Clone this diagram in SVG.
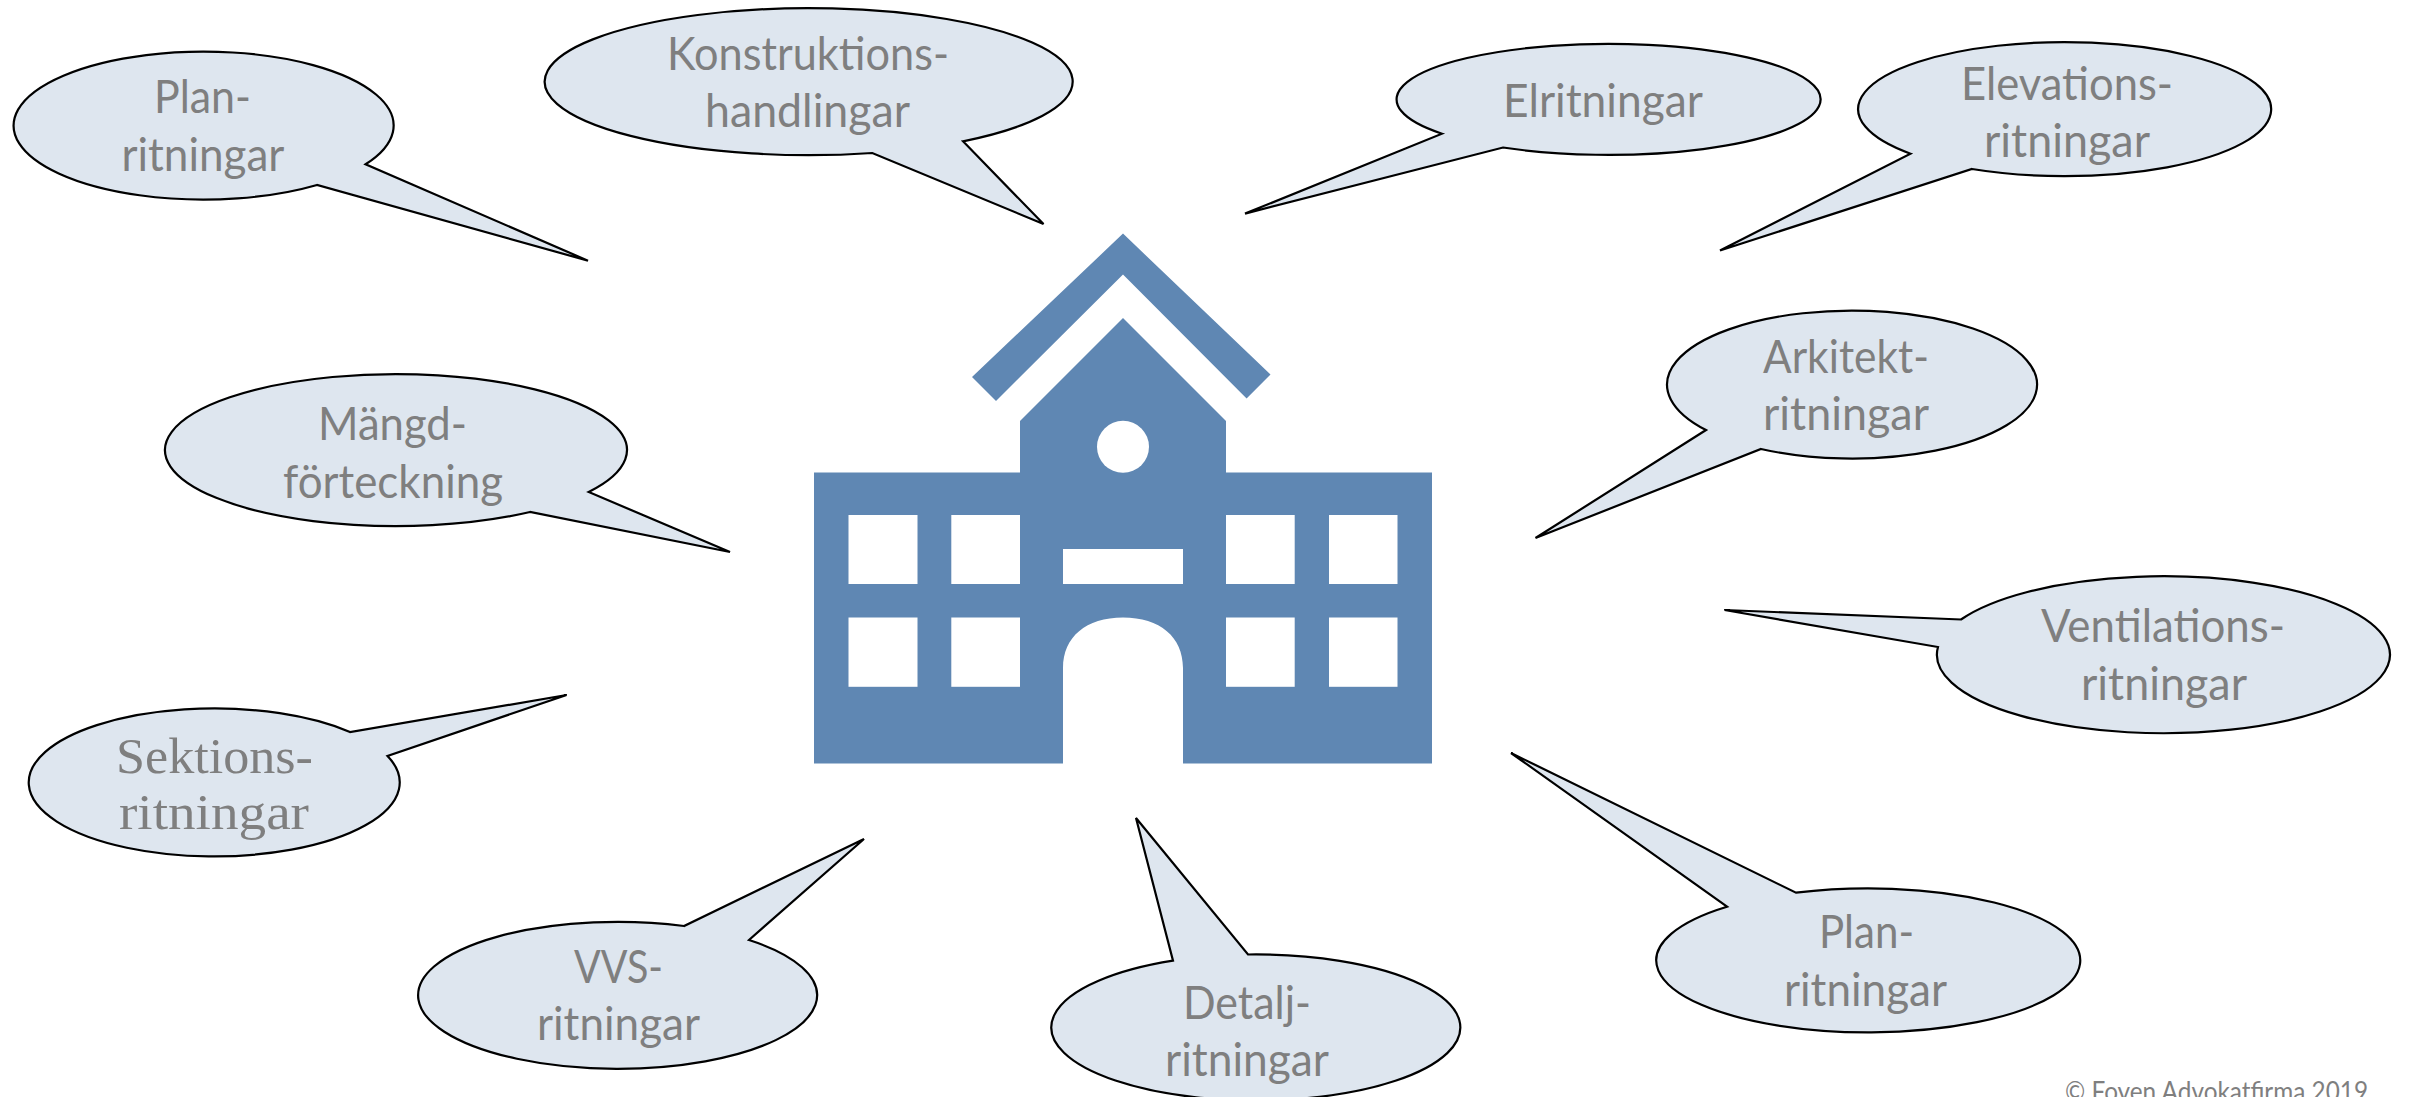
<svg xmlns="http://www.w3.org/2000/svg" width="2410" height="1097" viewBox="0 0 2410 1097">
<style>
.b{fill:#dee6ef;stroke:#000;stroke-width:2.2;stroke-linejoin:miter}
.t{font-family:"Lato","Liberation Sans",sans-serif;font-size:46px;fill:#7f7f7f;lengthAdjust:spacingAndGlyphs}
.s{font-family:"Liberation Serif","Times New Roman",serif;font-size:50px;fill:#7f7f7f}
.c{font-family:"Lato","Liberation Sans",sans-serif;font-size:26px;fill:#7f7f7f}
.h{fill:#5f87b3}
.w{fill:#fff}
</style>
<rect width="2410" height="1097" fill="#fff"/>
<g id="building">
<path class="h" d="M972 377L1123 233.6L1270.5 374.6L1246.6 398.6L1123 274.6L996 401Z"/>
<path class="h" fill-rule="evenodd" d="M814 472.5H1020V421L1123 318L1226 421V472.5H1432V763.6H1183V668C1183 637 1160 617.5 1123 617.5C1086 617.5 1063 637 1063 668V763.6H814Z"/>
<circle class="w" cx="1123" cy="446.8" r="26"/>
<rect class="w" x="848.5" y="515" width="69" height="69"/>
<rect class="w" x="951.3" y="515" width="68.7" height="69"/>
<rect class="w" x="1226" y="515" width="68.7" height="69"/>
<rect class="w" x="1329" y="515" width="68.5" height="69"/>
<rect class="w" x="848.5" y="617.5" width="69" height="69.3"/>
<rect class="w" x="951.3" y="617.5" width="68.7" height="69.3"/>
<rect class="w" x="1226" y="617.5" width="68.7" height="69.3"/>
<rect class="w" x="1329" y="617.5" width="68.5" height="69.3"/>
<rect class="w" x="1063" y="549" width="120" height="35"/>
</g>
<g id="plan-top">
<path class="b" d="M588 260.7L365.6 164.3A190 74 0 1 0 317 185Z"/>
<text class="t" x="154" y="113" textLength="97" lengthAdjust="spacingAndGlyphs">Plan-</text>
<text class="t" x="121.4" y="171" textLength="163" lengthAdjust="spacingAndGlyphs">ritningar</text>
</g>
<g id="konstruktion">
<path class="b" d="M1043.5 224L963 141.3A264 73.5 0 1 0 872.3 153Z"/>
<text class="t" x="667" y="70" textLength="282" lengthAdjust="spacingAndGlyphs">Konstruktions-</text>
<text class="t" x="705" y="127" textLength="205" lengthAdjust="spacingAndGlyphs">handlingar</text>
</g>
<g id="el">
<path class="b" d="M1245 213.6L1442 133.7A212 55.5 0 1 1 1503 147.5Z"/>
<text class="t" x="1503" y="117" textLength="200" lengthAdjust="spacingAndGlyphs">Elritningar</text>
</g>
<g id="elevation">
<path class="b" d="M1720 250.5L1910.5 153.7A206.5 67 0 1 1 1972 169Z"/>
<text class="t" x="1961" y="100" textLength="212" lengthAdjust="spacingAndGlyphs">Elevations-</text>
<text class="t" x="1984" y="157" textLength="166" lengthAdjust="spacingAndGlyphs">ritningar</text>
</g>
<g id="arkitekt">
<path class="b" d="M1535.5 538L1706 430A185 74 0 1 1 1761 449Z"/>
<text class="t" x="1763" y="373" textLength="166" lengthAdjust="spacingAndGlyphs">Arkitekt-</text>
<text class="t" x="1763" y="430" textLength="166" lengthAdjust="spacingAndGlyphs">ritningar</text>
</g>
<g id="ventilation">
<path class="b" d="M1724.5 610L1961 619.5A226.5 78.5 0 1 1 1938 647Z"/>
<text class="t" x="2041" y="642" textLength="244" lengthAdjust="spacingAndGlyphs">Ventilations-</text>
<text class="t" x="2081" y="700" textLength="166" lengthAdjust="spacingAndGlyphs">ritningar</text>
</g>
<g id="plan-bottom">
<path class="b" d="M1511 753L1796 892.7A212 72 0 1 1 1727 906.7Z"/>
<text class="t" x="1819" y="948" textLength="95" lengthAdjust="spacingAndGlyphs">Plan-</text>
<text class="t" x="1784" y="1006" textLength="163" lengthAdjust="spacingAndGlyphs">ritningar</text>
</g>
<g id="detalj">
<path class="b" d="M1136 818L1248 954.5A204.5 73 0 1 1 1173 960.7Z"/>
<text class="t" x="1183" y="1019" textLength="128" lengthAdjust="spacingAndGlyphs">Detalj-</text>
<text class="t" x="1165" y="1076" textLength="164" lengthAdjust="spacingAndGlyphs">ritningar</text>
</g>
<g id="vvs">
<path class="b" d="M864 839L749 940A199.5 73.5 0 1 1 684 926Z"/>
<text class="t" x="574" y="983" textLength="89" lengthAdjust="spacingAndGlyphs">VVS-</text>
<text class="t" x="537" y="1040" textLength="163" lengthAdjust="spacingAndGlyphs">ritningar</text>
</g>
<g id="sektion">
<path class="b" d="M566.6 695L387.5 756A185.5 74 0 1 1 350 732Z"/>
<text class="s" x="116" y="773" textLength="197" lengthAdjust="spacingAndGlyphs">Sektions-</text>
<text class="s" x="119" y="829" textLength="190" lengthAdjust="spacingAndGlyphs">ritningar</text>
</g>
<g id="mangd">
<path class="b" d="M730 552L588.7 492A231 76 0 1 0 530 512Z"/>
<text class="t" x="318" y="440" textLength="149" lengthAdjust="spacingAndGlyphs">Mängd-</text>
<text class="t" x="283" y="498" textLength="220" lengthAdjust="spacingAndGlyphs">förteckning</text>
</g>
<text class="c" x="2065" y="1101" textLength="303" lengthAdjust="spacingAndGlyphs">© Foyen Advokatfirma 2019</text>
</svg>
